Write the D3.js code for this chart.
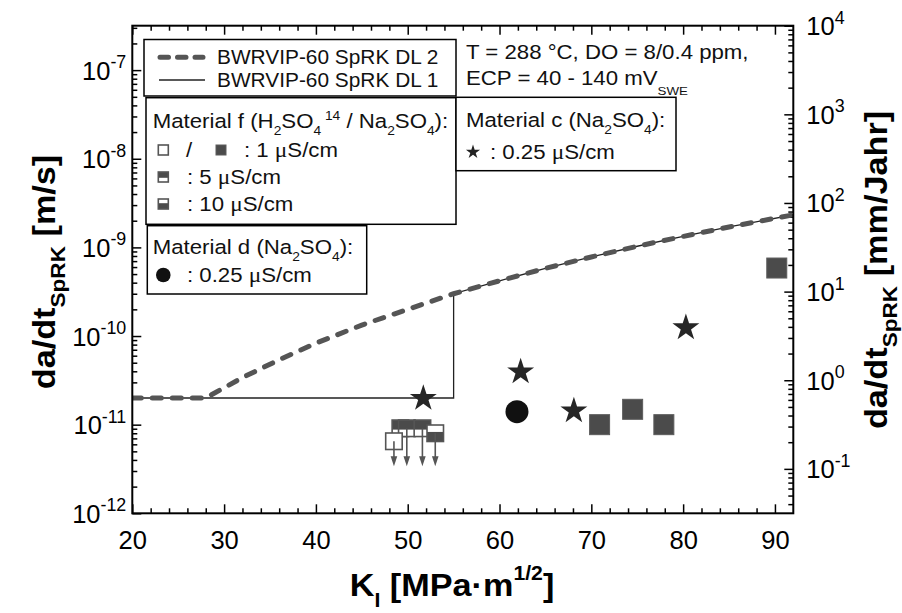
<!DOCTYPE html>
<html><head><meta charset="utf-8">
<script src="https://cdn.jsdelivr.net/npm/d3@7"></script>
<style>
body{margin:0;background:#fff}
svg{display:block;font-family:"Liberation Sans",Arial,sans-serif}
</style></head><body>
<svg id="chart" width="902" height="613"></svg>
<script>
// Crack growth rate da/dt (SpRK) versus stress intensity factor K_I
const xTicks = [20, 30, 40, 50, 60, 70, 80, 90];
const yLeftExp = [-12, -11, -10, -9, -8, -7];      // m/s
const yRightExp = [-1, 0, 1, 2, 3, 4];             // mm/Jahr
const MM_PER_YEAR = 3.1536e10;                     // (mm/Jahr) per (m/s)

// BWRVIP-60 disposition lines (K in MPa·m^1/2, rate in m/s)
const dl2K    = [20, 28, 32, 36, 40, 45, 50, 55, 60, 65, 70, 75, 80, 85, 92];
const dl2Rate = [2e-11, 2e-11, 3.4e-11, 5.4e-11, 8.3e-11, 1.33e-10, 2.0e-10, 3.0e-10, 4.2e-10, 5.8e-10, 7.8e-10, 1.03e-9, 1.33e-9, 1.7e-9, 2.33e-9];
const dl1K    = [20, 55, 55, 60, 65, 70, 75, 80, 85, 92];
const dl1Rate = [2e-11, 2e-11, 3.0e-10, 4.2e-10, 5.8e-10, 7.8e-10, 1.03e-9, 1.33e-9, 1.7e-9, 2.33e-9];

// Material f, 1 µS/cm (filled squares)
const fK    = [70.9, 74.5, 77.9, 90.2];
const fRate = [1.0e-11, 1.49e-11, 1.0e-11, 5.85e-10];
// Material f, small specimens near K = 50 (conductivity in µS/cm, arrow = upper limit)
const fSmallK     = [49.2, 49.9, 51.6, 53.0, 48.5];
const fSmallRate  = [9.1e-12, 9.1e-12, 9.1e-12, 8.0e-12, 6.5e-12];
const fSmallCond  = ["5", "5", "5", "10", "1open"];
const fSmallLimit = [false, true, true, true, true];
const limitArrowTo = 3.4e-12;
// Material c (stars) and material d (circle), 0.25 µS/cm
const cK    = [51.7, 62.3, 68.1, 80.3];
const cRate = [1.98e-11, 3.95e-11, 1.43e-11, 1.24e-10];
const dK    = [61.9];
const dRate = [1.4e-11];

const svg = d3.select("#chart");
const P = {left: 132.3, right: 793.3, top: 25.7, bottom: 513.3};

const x = d3.scaleLinear().domain([20, 92]).range([P.left, P.right]);
const yL = d3.scaleLog().domain([1e-12, 1e4 / MM_PER_YEAR]).range([P.bottom, P.top]);
const yR = d3.scaleLog().domain([1e-12 * MM_PER_YEAR, 1e4]).range([P.bottom, P.top]);

const DARK = "#4b4b4b", LINE = "#555";

// text with sub/superscripts: segs = [[text, "n"|"sub"|"sup"], ...]
function rich(sel, segs, size, opt = {}) {
  let cur = 0;
  segs.forEach(([t, k]) => {
    const off = k === "sub" ? size * (opt.subOff || 0.32) : k === "sup" ? -size * (opt.supOff || 0.42) : 0;
    sel.append("tspan").attr("dy", off - cur)
      .attr("font-size", k === "n" ? size : size * (opt.small || 0.62)).text(t);
    cur = off;
  });
  return sel;
}
function richMu(sel, pre, post, size) {
  sel.append("tspan").attr("font-size", size).text(pre);
  sel.append("tspan").attr("font-size", size * 1.05).attr("font-family", "'Liberation Serif',serif").text("μ");
  sel.append("tspan").attr("font-size", size).text(post);
  return sel;
}

// minor ticks of a log scale
function logMinors(scale) {
  const [a, b] = scale.domain(), out = [];
  for (let e = Math.floor(Math.log10(a)); e <= Math.ceil(Math.log10(b)); e++)
    for (let m = 2; m <= 9; m++) { const v = m * Math.pow(10, e); if (v >= a && v <= b) out.push(v); }
  return out;
}
const xMinor = d3.range(22, 92, 2).filter(v => v % 10 !== 0);

const MAJ = 9, MIN = 5;
function tickAxis(axisFn, scale, values, len, cls) {
  const g = svg.append("g").attr("class", cls);
  g.call(axisFn(scale).tickValues(values).tickSize(-len).tickFormat(() => ""));
  g.select(".domain").remove();
  g.selectAll(".tick line").attr("stroke", "#000").attr("stroke-width", 1.5);
  return g;
}

// bottom / top axes
const gxB = tickAxis(d3.axisBottom, x, xTicks, MAJ, "xb").attr("transform", `translate(0,${P.bottom})`);
tickAxis(d3.axisBottom, x, xMinor, MIN, "xbm").attr("transform", `translate(0,${P.bottom})`);
tickAxis(d3.axisTop, x, xTicks, MAJ, "xt").attr("transform", `translate(0,${P.top})`);
tickAxis(d3.axisTop, x, xMinor, MIN, "xtm").attr("transform", `translate(0,${P.top})`);
gxB.selectAll(".tick").append("text")
  .attr("y", 36).attr("text-anchor", "middle").attr("fill", "#000")
  .attr("font-size", 25.5).text(d => d);

// left axis (m/s)
const gyL = tickAxis(d3.axisLeft, yL, yLeftExp.map(e => Math.pow(10, e)), MAJ, "yl").attr("transform", `translate(${P.left},0)`);
tickAxis(d3.axisLeft, yL, logMinors(yL), MIN, "ylm").attr("transform", `translate(${P.left},0)`);
gyL.selectAll(".tick").each(function (d, i) {
  const t = d3.select(this).append("text").attr("x", -6).attr("y", 9)
    .attr("text-anchor", "end").attr("fill", "#000");
  rich(t, [["10", "n"], [String(yLeftExp[i]), "sup"]], 25.5, {small: 0.7, supOff: 0.45});
});

// right axis (mm/Jahr)
const gyR = tickAxis(d3.axisRight, yR, yRightExp.map(e => Math.pow(10, e)), MAJ, "yr").attr("transform", `translate(${P.right},0)`);
tickAxis(d3.axisRight, yR, logMinors(yR), MIN, "yrm").attr("transform", `translate(${P.right},0)`);
gyR.selectAll(".tick").each(function (d, i) {
  const t = d3.select(this).append("text").attr("x", 13).attr("y", 9)
    .attr("text-anchor", "start").attr("fill", "#000");
  rich(t, [["10", "n"], [String(yRightExp[i]), "sup"]], 25.5, {small: 0.7, supOff: 0.45});
});

// clip region for the curves
svg.append("clipPath").attr("id", "plotClip").append("rect")
  .attr("x", P.left).attr("y", P.top).attr("width", P.right - P.left).attr("height", P.bottom - P.top);

const line = d3.line().x(d => x(d[0])).y(d => yL(d[1]));
const gc = svg.append("g").attr("clip-path", "url(#plotClip)");
gc.append("path").attr("d", line(dl1K.map((k, i) => [k, dl1Rate[i]])))
  .attr("fill", "none").attr("stroke", "#222").attr("stroke-width", 1.3);
gc.append("path").attr("d", line(dl2K.map((k, i) => [k, dl2Rate[i]])))
  .attr("fill", "none").attr("stroke", LINE).attr("stroke-width", 5)
  .attr("stroke-dasharray", "9,11").attr("stroke-linecap", "round");

// frame
svg.append("rect").attr("x", P.left).attr("y", P.top)
  .attr("width", P.right - P.left).attr("height", P.bottom - P.top)
  .attr("fill", "none").attr("stroke", "#000").attr("stroke-width", 2);

// legend boxes
const LF = 19.5, STRETCH = 1.14;
function box(x0, y0, w, h) {
  svg.append("rect").attr("x", x0).attr("y", y0).attr("width", w).attr("height", h)
    .attr("fill", "#fff").attr("stroke", "#000").attr("stroke-width", 1.5);
}
function ltext(x0, yc, size, sx = STRETCH) {
  return svg.append("text")
    .attr("transform", `translate(${x0},${yc + size * 0.36}) scale(${sx},1)`)
    .attr("fill", "#111").attr("font-size", size);
}
box(144, 39.5, 312, 56.5);
svg.append("line").attr("x1", 160).attr("x2", 203).attr("y1", 57.3).attr("y2", 57.3)
  .attr("stroke", LINE).attr("stroke-width", 5).attr("stroke-dasharray", "8.5,9").attr("stroke-linecap", "round");
ltext(217, 57.3, LF, 1.07).text("BWRVIP-60 SpRK DL 2");
svg.append("line").attr("x1", 159).attr("x2", 205).attr("y1", 80).attr("y2", 80)
  .attr("stroke", "#222").attr("stroke-width", 1.3);
ltext(217, 80, LF, 1.07).text("BWRVIP-60 SpRK DL 1");

ltext(466, 51.7, LF).text("T = 288 °C, DO = 8/0.4 ppm,");
rich(ltext(466, 78.3, LF), [["ECP = 40 - 140 mV", "n"], ["SWE", "sub"]], LF, {small: 0.6, subOff: 0.5});

// square marker drawing (kind: "1", "1open", "5", "10")
function square(g, cx, cy, s, kind) {
  const x0 = cx - s / 2, y0 = cy - s / 2;
  if (kind === "1") {
    g.append("rect").attr("x", x0).attr("y", y0).attr("width", s).attr("height", s)
      .attr("fill", DARK).attr("stroke", "#5c5c5c").attr("stroke-width", 1);
    return;
  }
  g.append("rect").attr("x", x0).attr("y", y0).attr("width", s).attr("height", s).attr("fill", "#fff");
  if (kind === "5") g.append("rect").attr("x", x0).attr("y", y0).attr("width", s).attr("height", s * 0.58).attr("fill", DARK);
  if (kind === "10") g.append("rect").attr("x", x0).attr("y", y0 + s * 0.42).attr("width", s).attr("height", s * 0.58).attr("fill", DARK);
  g.append("rect").attr("x", x0).attr("y", y0).attr("width", s).attr("height", s)
    .attr("fill", "none").attr("stroke", LINE).attr("stroke-width", 1.6);
}

box(146, 97.7, 310, 126.6);
rich(ltext(152.7, 121, LF), [["Material f (H", "n"], ["2", "sub"], ["SO", "n"], ["4", "sub"], [" 14", "sup"],
  [" / Na", "n"], ["2", "sub"], ["SO", "n"], ["4", "sub"], ["):", "n"]], LF, {small: 0.62, subOff: 0.38, supOff: 0.4});
const gl = svg.append("g");
square(gl, 163.3, 150, 10, "1open");
ltext(186, 150, LF).text("/");
square(gl, 221, 150, 10, "1");
richMu(ltext(244, 150, LF), ": 1 ", "S/cm", LF);
square(gl, 163.3, 177, 10, "5");
richMu(ltext(187, 177, LF), ": 5 ", "S/cm", LF);
square(gl, 163.3, 204, 10, "10");
richMu(ltext(187, 204, LF), ": 10 ", "S/cm", LF);

box(147.3, 225.7, 219.4, 68.3);
rich(ltext(152.7, 247, LF), [["Material d (Na", "n"], ["2", "sub"], ["SO", "n"], ["4", "sub"], ["):", "n"]], LF, {small: 0.62, subOff: 0.38});
svg.append("circle").attr("cx", 163.3).attr("cy", 275).attr("r", 7.3).attr("fill", "#111");
richMu(ltext(187, 275, LF), ": 0.25 ", "S/cm", LF);

box(456, 97.3, 220, 73.4);
rich(ltext(466, 120, LF), [["Material c (Na", "n"], ["2", "sub"], ["SO", "n"], ["4", "sub"], ["):", "n"]], LF, {small: 0.62, subOff: 0.38});
svg.append("path").attr("d", d3.symbol(d3.symbolStar, 62)()).attr("transform", "translate(473,152)").attr("fill", "#222");
richMu(ltext(490, 151.7, LF), ": 0.25 ", "S/cm", LF);

// data points
const gp = svg.append("g");
fSmallK.forEach((k, i) => square(gp, x(k), yL(fSmallRate[i]), 16.5, fSmallCond[i]));
fSmallK.forEach((k, i) => {
  if (!fSmallLimit[i]) return;
  const cx = x(k), y0 = yL(fSmallRate[i]), y1 = yL(limitArrowTo);
  gp.append("line").attr("x1", cx).attr("x2", cx).attr("y1", y0).attr("y2", y1 - 8)
    .attr("stroke", LINE).attr("stroke-width", 1.6);
  gp.append("path").attr("d", `M${cx - 3.3},${y1 - 10}L${cx + 3.3},${y1 - 10}L${cx},${y1}Z`).attr("fill", LINE);
});
fK.forEach((k, i) => square(gp, x(k), yL(fRate[i]), 20, "1"));
dK.forEach((k, i) => gp.append("circle").attr("cx", x(k)).attr("cy", yL(dRate[i])).attr("r", 11.5).attr("fill", "#111"));
cK.forEach((k, i) => gp.append("path").attr("d", d3.symbol(d3.symbolStar, 225)())
  .attr("transform", `translate(${x(k)},${yL(cRate[i])})`).attr("fill", "#262626"));

// axis titles
const TS = 32, TSTRETCH = 1.07;
const tL = svg.append("text").attr("transform", `translate(55,272) rotate(-90) scale(${TSTRETCH},1)`)
  .attr("text-anchor", "middle").attr("font-weight", "bold").attr("fill", "#000");
rich(tL, [["da/dt", "n"], ["SpRK", "sub"], ["  [m/s]", "n"]], TS, {small: 0.66, subOff: 0.3});
const tR = svg.append("text").attr("transform", `translate(887,270) rotate(-90) scale(${TSTRETCH},1)`)
  .attr("text-anchor", "middle").attr("font-weight", "bold").attr("fill", "#000");
rich(tR, [["da/dt", "n"], ["SpRK", "sub"], ["  [mm/Jahr]", "n"]], TS, {small: 0.66, subOff: 0.3});
const tX = svg.append("text").attr("transform", `translate(452,596) scale(${TSTRETCH},1)`)
  .attr("text-anchor", "middle").attr("font-weight", "bold").attr("fill", "#000");
rich(tX, [["K", "n"], ["I", "sub"], ["  [MPa·m", "n"], ["1/2", "sup"], ["]", "n"]], TS, {small: 0.62, subOff: 0.35, supOff: 0.5});
</script>
</body></html>
